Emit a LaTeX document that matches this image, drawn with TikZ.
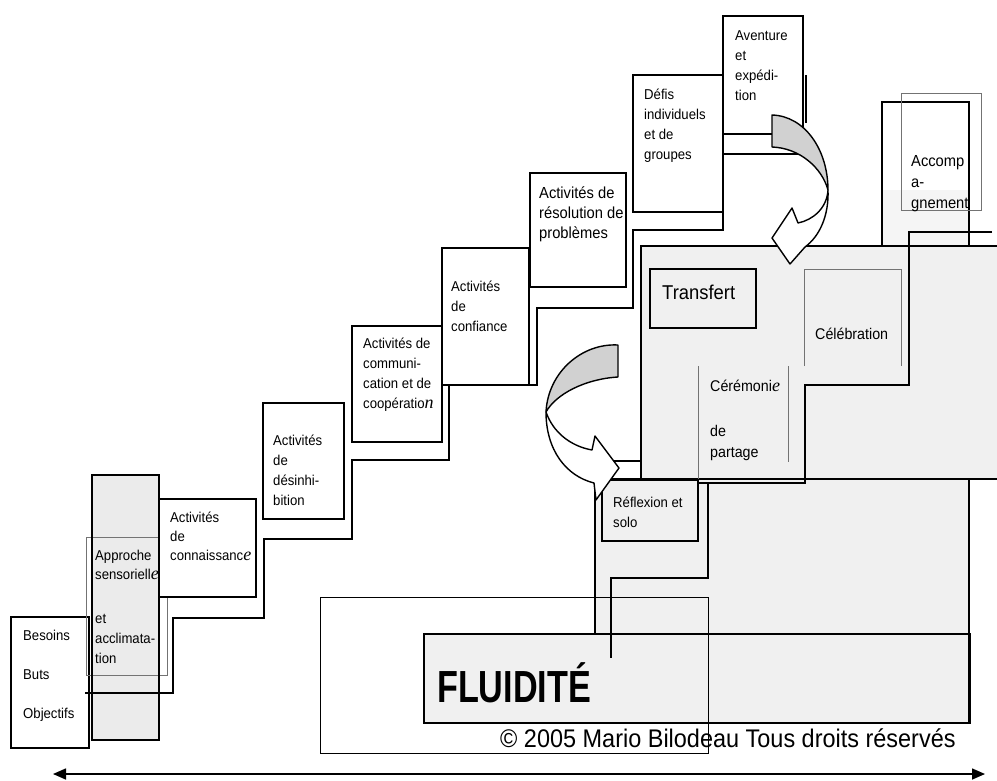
\documentclass[tikz,border=0pt]{standalone}
\usepackage{fontspec}
\setmainfont{Liberation Sans}[FakeStretch=0.92]
\newfontfamily\fluidfont{Liberation Sans}[FakeStretch=0.76]
\newfontfamily\handfont{Liberation Serif}
\usetikzlibrary{arrows.meta}
\newcommand\hw[1]{{\handfont\itshape\fontsize{18}{18}\selectfont #1}}
\begin{document}
\begin{tikzpicture}[x=1pt,y=-1pt,
  box/.style={line width=1.1pt},
  stair/.style={line width=1.5pt},
  thinbox/.style={line width=0.7pt, black!55},
  ribbon/.style={line width=1.4pt, line join=round},
  txt/.style={inner sep=0pt, anchor=base west, align=left, font=\fontsize{14.3}{20}\selectfont},
  shade/.style={black!6}]
\useasboundingbox (0,0) rectangle (997,780);
% shaded areas
\fill[shade] (641,246) rectangle (997,479);
\fill[shade] (595,479) rectangle (969,723);
\fill[shade] (424,634) rectangle (595,723);
\fill[black!4] (882,190) rectangle (969,246);
\fill[black!8] (92,475) rectangle (159,740);
% left boxes
\draw[box] (11,617) rectangle (89,748);
\draw[thinbox] (86,537) rectangle (167,675);
\draw[box, line width=1.3pt] (92,475) rectangle (159,740);
\draw[box, fill=white] (159,499) rectangle (256,597);
\draw[box] (263,403) rectangle (344,519);
\draw[box] (352,326) rectangle (442,442);
\draw[box] (442,248) rectangle (529,385);
\draw[box] (530,173) rectangle (626,287);
\draw[box] (633,75) rectangle (723,212);
\draw[box] (723,16) rectangle (803,134);
\draw[box] (806,75) -- (806,123);
% main staircase
\draw[stair] (85,693) -| (173,618) -| (264,539) -| (352,460) -| (449,385) -| (537,308) -| (633,230) -| (723,154) -- (800,154);
% right block
\draw[box] (997,246) -- (641,246) -- (641,479);
\draw[box] (595,479) -- (997,479);
\draw[box] (969,479) -- (969,723);
\draw[box] (595,479) -- (595,634);
\draw[box] (600,461) -- (641,461);
\draw[box] (882,246) -- (882,102) -- (969,102) -- (969,246);
\draw[thinbox] (901,93) rectangle (981,210);
\draw[stair] (992,232) -| (909,385) -| (805,483) -- (698,483);
\draw[stair] (708,483) |- (611,578) -- (611,658);
\draw[box] (650,269) rectangle (756,328);
\draw[thinbox] (804,366) |- (901,269) -- (901,366);
\draw[thinbox] (698,366) -- (698,480);
\draw[thinbox] (788,366) -- (788,462);
\draw[box] (602,480) rectangle (698,541);
\draw[line width=0.9pt] (320,597) rectangle (708,753);
\draw[box, line width=1.4pt] (424,634) rectangle (970,723);
% ribbon arrows
\draw[ribbon, fill=black!18] (618,345) .. controls (582,343) and (548,372) .. (546,412) .. controls (556,394) and (585,379) .. (618,377) -- cycle;
\draw[ribbon, fill=white] (546,412) .. controls (546,450) and (566,476) .. (594,483) -- (596,500) -- (619,468) -- (595,436) -- (592,450) .. controls (570,446) and (553,432) .. (546,412) -- cycle;
\draw[ribbon, fill=black!18] (772,115) .. controls (805,116) and (828,150) .. (828,190) .. controls (822,168) and (800,148) .. (772,147) -- cycle;
\draw[ribbon, fill=white] (828,190) .. controls (827,208) and (813,220) .. (798,223) -- (792,208) -- (772,238) -- (790,264) -- (805,247) .. controls (820,236) and (829,215) .. (828,190) -- cycle;
% bottom double arrow
\coordinate (arrL) at (53,774);
\coordinate (arrR) at (985,774);
\draw[line width=1.6pt, {Triangle[length=13pt,width=11pt]}-{Triangle[length=13pt,width=11pt]}] (arrL) -- (arrR);
% texts (anchor = baseline of the last line)
\node[txt, font=\fontsize{14.3}{39}\selectfont] (besoins) at (23,718) {Besoins\\Buts\\Objectifs};
\node[txt, font=\fontsize{14.3}{19}\selectfont] (approche) at (95,579) {Approche\\sensoriell\hw{e}};
\node[txt] (accl) at (95,663) {et\\acclimata-\\tion};
\node[txt, font=\fontsize{14.3}{19}\selectfont] (conn) at (170,560) {Activités\\de\\connaissanc\hw{e}};
\node[txt] (desinh) at (273,505) {Activités\\de\\désinhi-\\bition};
\node[txt] (comm) at (363,408) {Activités de\\communi-\\cation et de\\coopératio\hw{n}};
\node[txt] (conf) at (451,331) {Activités\\de\\confiance};
\node[txt, font=\fontsize{16}{20}\selectfont] (resol) at (539,238) {Activités de\\résolution de\\problèmes};
\node[txt] (defis) at (644,159) {Défis\\individuels\\et de\\groupes};
\node[txt] (avent) at (735,100) {Aventure\\et\\expédi-\\tion};
\node[txt, font=\fontsize{20}{20}\selectfont] (transf) at (662,299) {Transfert};
\node[txt, font=\fontsize{15.5}{20}\selectfont] (celeb) at (815,339) {Célébration};
\node[txt, font=\fontsize{15.5}{21}\selectfont] (ceremo) at (710,391) {Cérémoni\hw{e}};
\node[txt, font=\fontsize{15.5}{21}\selectfont] (partage) at (710,457) {de\\partage};
\node[txt] (reflex) at (613,527) {Réflexion et\\solo};
\node[txt, font=\fontsize{16}{21}\selectfont] (accomp) at (911,208) {Accomp\\a-\\gnement};
\node[inner sep=0pt, anchor=base west] (fluid) at (437,702) {\fluidfont\bfseries\fontsize{45}{45}\selectfont FLUIDITÉ};
\node[inner sep=0pt, anchor=base west] (copyr) at (500,747) {\fontsize{25.5}{25.5}\selectfont © 2005 Mario Bilodeau Tous droits réservés};
\end{tikzpicture}
\end{document}
